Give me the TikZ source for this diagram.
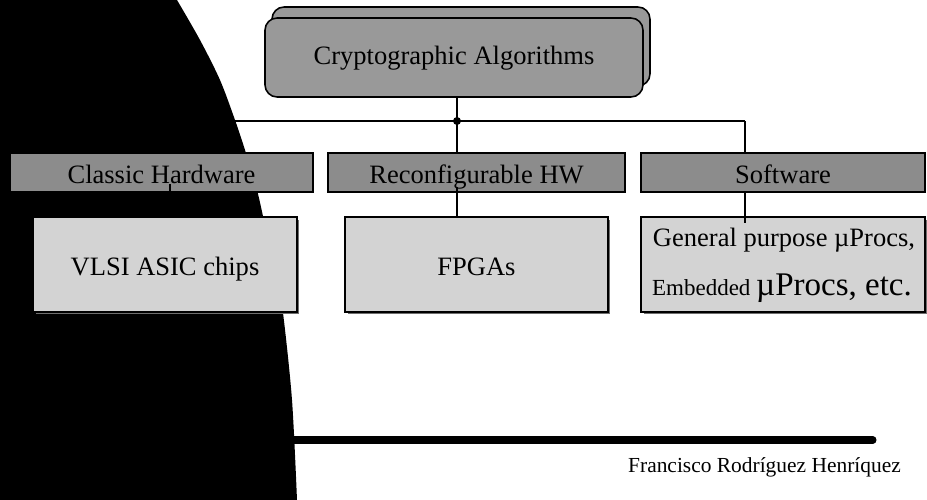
\documentclass[tikz,border=0pt]{standalone}
\usepackage{fontspec}
\setmainfont{Liberation Serif}
\usetikzlibrary{shadows}
\definecolor{topgray}{RGB}{153,153,153}
\definecolor{midgray}{RGB}{140,140,140}
\definecolor{lightgray2}{RGB}{211,211,211}
\definecolor{shadowgray}{RGB}{110,110,110}
\begin{document}
\begin{tikzpicture}[x=0.02cm,y=-0.02cm,
  conn/.style={draw=black,line width=0.85pt},
  topbox/.style={draw=black,line width=0.9pt,fill=topgray,rounded corners=0.24cm,
    minimum width=7.56cm,minimum height=1.58cm,inner sep=0pt,
    text height=11pt,text depth=3.6pt,
    font=\fontsize{15.1}{18}\selectfont},
  lvltwo/.style={draw=black,line width=0.85pt,fill=midgray,inner sep=0pt,
    minimum height=0.78cm,text height=14pt,text depth=2pt,
    font=\fontsize{15.1}{18}\selectfont},
  lvlthree/.style={draw=black,line width=0.85pt,fill=lightgray2,inner sep=0pt,
    minimum height=1.9cm,text height=14pt,text depth=2pt,
    font=\fontsize{15.1}{18}\selectfont,
    drop shadow={shadow xshift=0.05cm,shadow yshift=-0.05cm,fill=shadowgray,opacity=1}}]
\useasboundingbox (0,0) rectangle (927,500);
% black background shape
\fill[black] (0,0) -- (177,0) -- plot[smooth] coordinates {(177,0) (200,40) (220,80) (235,120) (245,150) (257,190) (266,230) (276,275) (283,313) (292,400) (297,500)} -- (0,500) -- cycle;
% top box with its copy behind
\node[topbox] (topback) at (461,46.5) {};
\node[topbox] (top) at (454,57.5) {Cryptographic Algorithms};
% level two
\node[lvltwo,minimum width=6.06cm] (classic) at (161.5,172.5) {Classic Hardware};
\node[lvltwo,minimum width=5.94cm] (reconf) at (476.5,172.5) {Reconfigurable HW};
\node[lvltwo,minimum width=5.68cm] (soft) at (783,172.5) {Software};
% level three
\node[lvlthree,minimum width=5.28cm] (vlsi) at (165,264.5) {VLSI ASIC chips};
\node[lvlthree,minimum width=5.26cm] (fpga) at (476.5,264.5) {FPGAs};
\node[lvlthree,minimum width=5.68cm] (swbox) at (783,264.5) {};
\node[anchor=base,font=\fontsize{15.1}{18}\selectfont] (swl1) at (784,246) {General purpose µProcs,};
\node[anchor=base,inner sep=0pt] (swl2) at (782,296) {{\fontsize{13.1}{16}\selectfont Embedded }{\fontsize{18.8}{22}\selectfont µProcs, etc.}};
% connectors
\coordinate (j) at (457,121);
\coordinate (hl) at (170,121);
\coordinate (hr) at (745,121);
\coordinate (c1) at (170,184);
\coordinate (c2) at (457,187);
\coordinate (c3e) at (745,223);
\draw[conn] (top.south -| j) -- (j);
\draw[conn] (hl) -- (hr);
\draw[conn] (hl) -- (hl |- classic.north);
\draw[conn] (j) -- (j |- reconf.north);
\draw[conn] (hr) -- (hr |- soft.north);
\draw[conn] (c1) -- (c1 |- vlsi.north);
\draw[conn] (c2) -- (c2 |- fpga.north);
\draw[conn] (hr |- soft.south) -- (c3e);
\fill[black] (j) circle (4);
% footer
\coordinate (fl) at (200,440);
\coordinate (fr) at (873,440);
\draw[line width=4pt,line cap=round] (fl) -- (fr);
\node[font=\fontsize{12.2}{14}\selectfont] (author) at (764.5,467) {Francisco Rodríguez Henríquez};
\end{tikzpicture}
\end{document}
